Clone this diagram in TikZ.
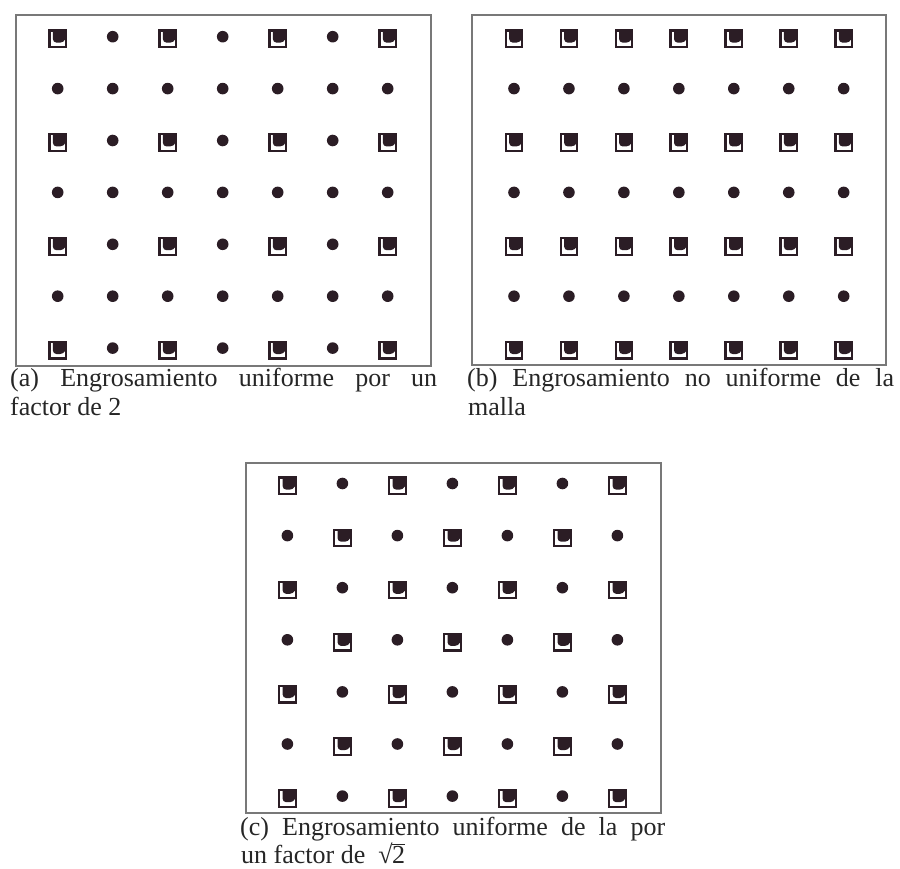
\documentclass[tikz,border=0pt]{standalone}
\usepackage{fontspec}
\setmainfont{Liberation Serif}
\definecolor{markcol}{HTML}{2B1D25}
\definecolor{framegray}{HTML}{787878}
\definecolor{textcol}{HTML}{262626}
\tikzset{
  frame/.style={draw=framegray, line width=2pt},
  captxt/.style={inner sep=0pt, anchor=base west, text=textcol, font=\fontsize{26}{30}\selectfont},
  sqm/.pic={
    \filldraw[fill=white, draw=markcol, line width=2.2pt] (-8.3,-8.3) rectangle (8.3,8.3);
    \fill[markcol] (-4.8,-8.3) -- (8.3,-8.3) -- (8.3,-1) {[rounded corners=3.5pt] -- (6,3.8) -- (-4.8,3.8)} -- cycle;
  },
  dtm/.pic={\fill[markcol] (0,0) circle (5.8);}
}
\begin{document}
\begin{tikzpicture}[x=1pt,y=-1pt]
\useasboundingbox (0,0) rectangle (900,869);
\fill[white] (0,0) rectangle (900,869);

% ---------- panel (a) ----------
\draw[frame] (15.5,15) rectangle (431,366);
\foreach \r in {0,...,6}{\foreach \c in {0,...,6}{
  \pgfmathtruncatemacro\k{mod(\r,2)+mod(\c,2)}
  \ifnum\k=0
    \pic at ({57.7+55*\c},{38.8+51.9*\r}) {sqm};
  \else
    \pic at ({57.7+55*\c},{36.7+51.9*\r}) {dtm};
  \fi
}}
\node[captxt] (capa1) at (10,386) {\makebox[427pt][s]{(a) Engrosamiento uniforme por un}};
\node[captxt] (capa2) at (10,415) {factor de 2};

% ---------- panel (b) ----------
\draw[frame] (472,15) rectangle (886,365);
\foreach \r in {0,...,6}{\foreach \c in {0,...,6}{
  \pgfmathtruncatemacro\k{mod(\r,2)}
  \ifnum\k=0
    \pic at ({514+54.95*\c},{38.8+51.9*\r}) {sqm};
  \else
    \pic at ({514+54.95*\c},{36.7+51.9*\r}) {dtm};
  \fi
}}
\node[captxt] (capb1) at (467,386) {\makebox[427pt][s]{(b) Engrosamiento no uniforme de la}};
\node[captxt] (capb2) at (468,415) {malla};

% ---------- panel (c) ----------
\draw[frame] (245.7,462.7) rectangle (660.7,813);
\foreach \r in {0,...,6}{\foreach \c in {0,...,6}{
  \pgfmathtruncatemacro\k{mod(\r+\c,2)}
  \ifnum\k=0
    \pic at ({287.4+55*\c},{485.8+52.1*\r}) {sqm};
  \else
    \pic at ({287.4+55*\c},{483.5+52.1*\r}) {dtm};
  \fi
}}
\node[captxt] (capc1) at (240,835) {\makebox[425pt][s]{(c) Engrosamiento uniforme de la por}};
\node[captxt] (capc2) at (241,863) {un factor de \ √\kern-0.5pt$\overline{\mbox{2}}$};
\end{tikzpicture}
\end{document}
